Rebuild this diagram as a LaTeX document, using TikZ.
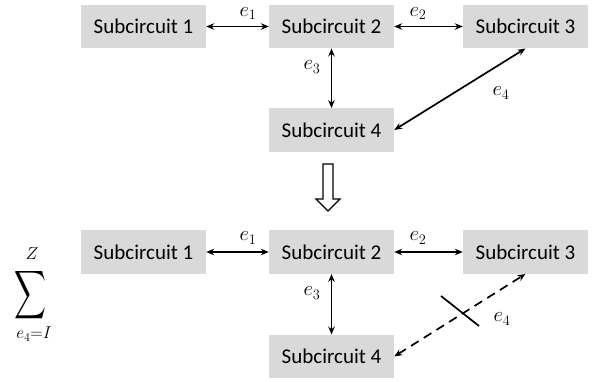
\documentclass[tikz,border=0pt]{standalone}
\usepackage{fontspec}
\setmainfont{Carlito}
\usetikzlibrary{arrows.meta}
\begin{document}
\begin{tikzpicture}[x=1pt,y=-1pt,
  box/.style={fill=boxgray,minimum width=125pt,minimum height=43.5pt,inner sep=0pt,font=\fontsize{21}{25}\selectfont},
  conn/.style={line width=1.7pt,{Stealth[length=8pt,width=6.5pt]}-{Stealth[length=8pt,width=6.5pt]}},
  lbl/.style={font=\fontsize{21}{25}\selectfont,inner sep=0pt},
  small/.style={font=\fontsize{18}{21}\selectfont,inner sep=0pt}]
\definecolor{boxgray}{HTML}{D9D9D9}
\useasboundingbox (0,0) rectangle (606,381);
% top
\node[box] (a1) at (143.5,26.5) {Subcircuit 1};
\node[box] (a2) at (331.5,26.5) {Subcircuit 2};
\node[box] (a3) at (525.5,26.5) {Subcircuit 3};
\node[box] (a4) at (331.5,130) {Subcircuit 4};
\draw[conn] (a1.east) -- (a2.west);
\draw[conn] (a2.east) -- (a3.west);
\draw[conn] (a2.south) -- (a4.north);
\draw[conn] (a4.east) -- (a3.south);
\node[lbl] (l1) at (248,13.5) {$e_1$};
\node[lbl] (l2) at (418,13.5) {$e_2$};
\node[lbl] (l3) at (312,67) {$e_3$};
\node[lbl] (l4) at (501,93) {$e_4$};
% hollow arrow
\draw[line width=1.2pt,fill=white] (323,164) -- (333,164) -- (333,199) -- (340,199) -- (328,211) -- (316,199) -- (323,199) -- cycle;
% bottom
\node[box] (b1) at (143.5,252) {Subcircuit 1};
\node[box] (b2) at (331.5,252) {Subcircuit 2};
\node[box] (b3) at (525.5,252) {Subcircuit 3};
\node[box] (b4) at (331.5,356.5) {Subcircuit 4};
\draw[conn] (b1.east) -- (b2.west);
\draw[conn] (b2.east) -- (b3.west);
\draw[conn] (b2.south) -- (b4.north);
\draw[conn,dash pattern=on 9pt off 6pt] (b4.east) -- (b3.south);
\coordinate (s1) at (441,296);
\coordinate (s2) at (479,326);
\draw[line width=1.7pt] (s1) -- (s2);
\node[lbl] (m1) at (248,238) {$e_1$};
\node[lbl] (m2) at (418,238) {$e_2$};
\node[lbl] (m3) at (312,293) {$e_3$};
\node[lbl] (m4) at (502,319) {$e_4$};
% sum
\node[inner sep=0pt] (sig) at (31,295) {\resizebox*{32pt}{54pt}{$\displaystyle\sum$}};
\node[small] (sz) at (32,253.5) {$Z$};
\node[small] (si) at (34,334) {$e_4{=}I$};
\end{tikzpicture}
\end{document}
